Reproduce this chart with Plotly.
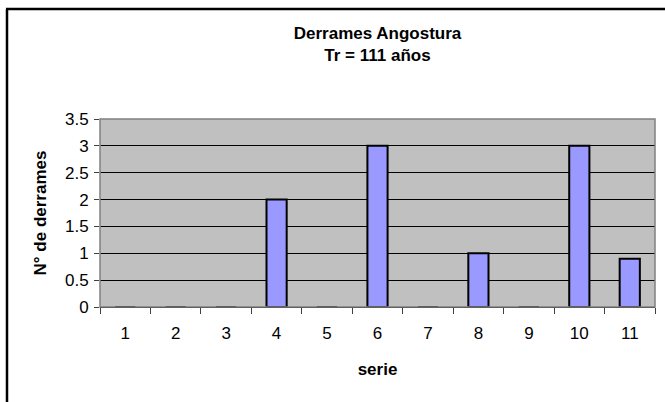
import plotly.graph_objects as go

# Series and values
series = ["1", "2", "3", "4", "5", "6", "7", "8", "9", "10", "11"]
derrames = [0, 0, 0, 2, 0, 3, 0, 1, 0, 3, 0.9]
y_ticks = [0, 0.5, 1, 1.5, 2, 2.5, 3, 3.5]
y_tick_labels = ["0", "0.5", "1", "1.5", "2", "2.5", "3", "3.5"]

W, H = 665, 402
ML, MR, MT, MB = 100, 10, 119, 95
pw, ph = W - ML - MR, H - MT - MB


def px_x(x):
    return (x - ML) / pw


def px_y(y):
    return (H - MB - y) / ph


font = "Liberation Sans, Arial, sans-serif"
FS = 17

fig = go.Figure(
    go.Bar(
        x=series,
        y=derrames,
        marker=dict(color="#9999ff", line=dict(color="black", width=2)),
        width=0.4,
    )
)

fig.update_layout(
    width=W,
    height=H,
    margin=dict(l=ML, r=MR, t=MT, b=MB),
    paper_bgcolor="white",
    plot_bgcolor="#c0c0c0",
    showlegend=False,
    font=dict(family=font, size=FS, color="black"),
    title=dict(
        text="<b>Derrames Angostura<br>Tr = 111 años</b>",
        x=0.5,
        xref="paper",
        xanchor="center",
        y=1 - 39 / H,
        yanchor="middle",
        font=dict(family=font, size=FS, color="black"),
    ),
    xaxis=dict(
        type="category",
        tickson="boundaries",
        ticks="outside",
        ticklen=6,
        tickcolor="#404040",
        ticklabelstandoff=11,
        showgrid=False,
        showline=True,
        linecolor="black",
        linewidth=1,
        tickfont=dict(size=FS),
        title=dict(text="<b>serie</b>", standoff=20, font=dict(size=FS)),
    ),
    yaxis=dict(
        range=[0, 3.5],
        tickvals=y_ticks,
        ticktext=y_tick_labels,
        ticks="outside",
        ticklen=5,
        tickcolor="#404040",
        ticklabelstandoff=2,
        showgrid=True,
        gridcolor="black",
        gridwidth=1,
        zeroline=False,
        showline=False,
        tickfont=dict(size=FS),
        title=dict(text="<b>N° de derrames</b>", standoff=14, font=dict(size=FS)),
    ),
    shapes=[
        # plot area border
        dict(type="rect", xref="paper", yref="paper", x0=0, y0=0, x1=1, y1=1,
             line=dict(color="#808080", width=1.5), layer="above"),
        # outer chart frame (left and top edges)
        dict(type="line", xref="paper", yref="paper",
             x0=px_x(7), y0=px_y(9), x1=px_x(7), y1=px_y(H + 5),
             line=dict(color="black", width=2.5)),
        dict(type="line", xref="paper", yref="paper",
             x0=px_x(6), y0=px_y(9), x1=px_x(W + 5), y1=px_y(9),
             line=dict(color="black", width=2.5)),
    ],
)

fig.write_html("out.html")
